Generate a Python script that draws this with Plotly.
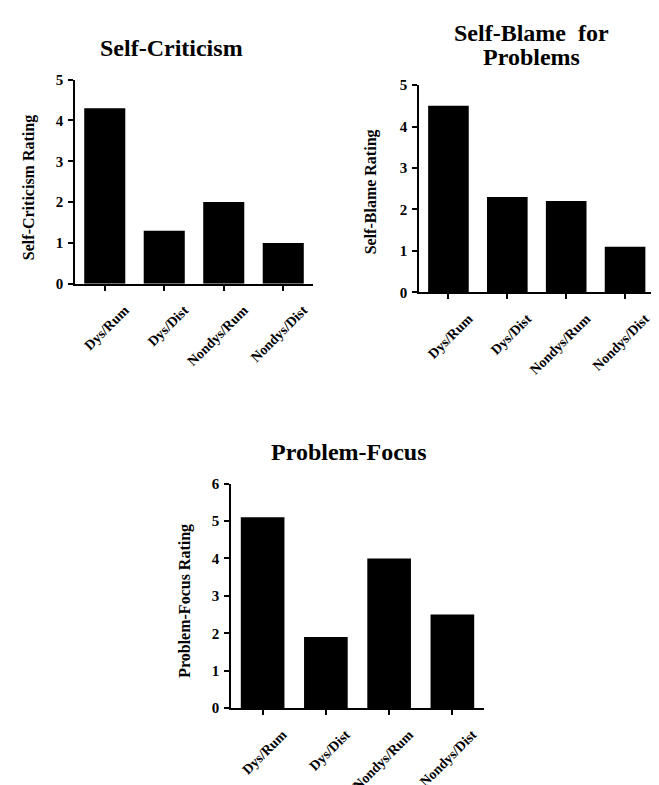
import plotly.graph_objects as go

categories = ["Dys/Rum", "Dys/Dist", "Nondys/Rum", "Nondys/Dist"]
self_criticism = [4.3, 1.3, 2.0, 1.0]
self_blame = [4.5, 2.3, 2.2, 1.1]
problem_focus = [5.1, 1.9, 4.0, 2.5]

W, H = 659, 785
FONT = "Liberation Serif"


def px_x(p):
    return p / W


def px_y(p):
    return 1 - p / H


fig = go.Figure()
for vals, xa, ya in [(self_criticism, "x", "y"), (self_blame, "x2", "y2"), (problem_focus, "x3", "y3")]:
    fig.add_trace(go.Bar(x=categories, y=vals, xaxis=xa, yaxis=ya,
                         marker=dict(color="black", line=dict(width=0)),
                         width=0.69, showlegend=False))

axis_common = dict(showline=True, linecolor="black", linewidth=1.6, ticks="outside",
                   ticklen=5, tickwidth=1.5, tickcolor="black", showgrid=False,
                   zeroline=False, fixedrange=True)
xfont = dict(family=FONT, size=14, color="black", weight="bold")
yfont = dict(family=FONT, size=15, color="black", weight="bold")


def xaxis(dom, anchor):
    return dict(axis_common, domain=dom, anchor=anchor, type="category",
                range=[-0.5, 3.5], tickangle=-45, tickfont=xfont,
                ticklabelshift=20, ticklabelstandoff=6)


def yaxis(dom, anchor, top):
    return dict(axis_common, domain=dom, anchor=anchor, range=[0, top],
                dtick=1, tickfont=yfont, ticklabelstandoff=2)


fig.update_layout(
    width=W, height=H, margin=dict(l=0, r=0, t=0, b=0),
    paper_bgcolor="white", plot_bgcolor="white",
    xaxis=xaxis([px_x(67), px_x(305)], "y"),
    yaxis=yaxis([px_y(273.3), px_y(65)], "x", 5),
    xaxis2=xaxis([px_x(411), px_x(646.5)], "y2"),
    yaxis2=yaxis([px_y(282), px_y(70.5)], "x2", 5),
    xaxis3=xaxis([px_x(223), px_x(476)], "y3"),
    yaxis3=yaxis([px_y(706.5), px_y(477.3)], "x3", 6),
)

titles = [
    ("Self-Criticism", 163, 33, 24, 0),
    ("Self-Blame\u00a0 for", 523.5, 17, 24, 0),
    ("Problems", 523.5, 42, 24, 0),
    ("Problem-Focus", 341, 445, 24, 0),
    ("Self-Criticism Rating", 21.7, 175, 16, -90),
    ("Self-Blame Rating", 363, 180, 16, -90),
    ("Problem-Focus Rating", 177, 597, 16, -90),
]
for text, x, y, size, ang in titles:
    fig.add_annotation(text=text, x=px_x(x), y=px_y(y), xref="paper", yref="paper",
                       xanchor="center", yanchor="middle", showarrow=False,
                       textangle=ang,
                       font=dict(family=FONT, size=size, color="black", weight="bold"))

fig.write_html("out.html")
